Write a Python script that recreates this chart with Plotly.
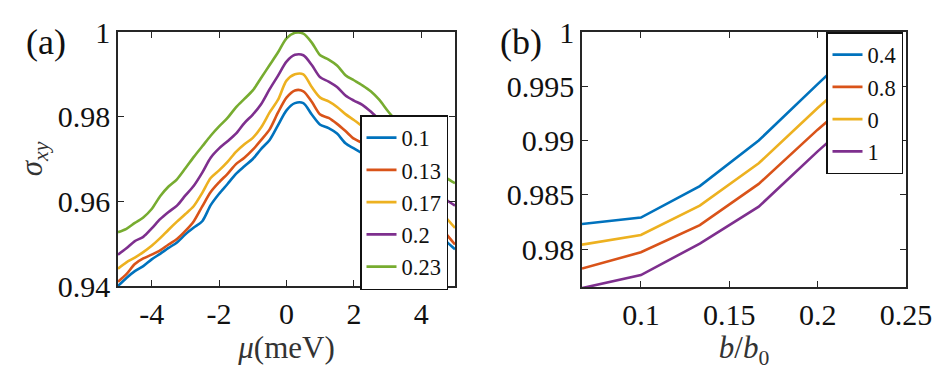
import plotly.graph_objects as go

# ---------------- Panel (a) data ----------------
mu = [-5.0, -4.75, -4.5, -4.25, -4.0, -3.75, -3.5, -3.25, -3.0, -2.75, -2.5, -2.25, -2.0, -1.75,
      -1.5, -1.25, -1.0, -0.75, -0.5, -0.25, 0.0, 0.25, 0.5, 0.75, 1.0, 1.25, 1.5, 1.75, 2.0, 2.25,
      2.5, 2.75, 3.0, 3.25, 3.5, 3.75, 4.0, 4.25, 4.5, 4.75, 5.0]

sigma_010 = [.9400, .9419, .9435, .9447, .9463, .9476, .9490, .9503, .9522, .9538, .9553, .9591, .9618, .9641,
             .9665, .9683, .9700, .9724, .9745, .9780, .9815, .9832, .9832, .9805, .9781, .9773, .9760, .9737, .9725, .9713,
             .9700, .9683, .9665, .9645, .9625, .9603, .9580, .9555, .9530, .9505, .9487]
sigma_013 = [.9410, .9428, .9452, .9465, .9474, .9484, .9498, .9511, .9530, .9553, .9588, .9622, .9645, .9665,
             .9688, .9703, .9722, .9745, .9770, .9810, .9845, .9862, .9860, .9835, .9805, .9797, .9783, .9766, .9748, .9738,
             .9725, .9705, .9687, .9667, .9645, .9622, .9598, .9573, .9548, .9522, .9498]
sigma_017 = [.9441, .9456, .9467, .9480, .9495, .9513, .9533, .9552, .9570, .9589, .9620, .9655, .9673, .9693,
             .9717, .9735, .9750, .9775, .9810, .9840, .9885, .9900, .9900, .9870, .9845, .9836, .9823, .9806, .9792, .9777,
             .9762, .9745, .9727, .9705, .9682, .9658, .9633, .9610, .9585, .9560, .9537]
sigma_020 = [.9474, .9489, .9506, .9516, .9536, .9558, .9575, .9590, .9614, .9637, .9668, .9703, .9725, .9742,
             .9760, .9785, .9805, .9830, .9865, .9897, .9930, .9946, .9945, .9922, .9893, .9883, .9870, .9850, .9838, .9828,
             .9812, .9792, .9770, .9745, .9720, .9695, .9670, .9645, .9622, .9603, .9590]
sigma_023 = [.9527, .9535, .9549, .9562, .9582, .9612, .9635, .9652, .9678, .9705, .9730, .9755, .9777, .9797,
             .9822, .9842, .9862, .9892, .9922, .9952, .9985, .9998, .9996, .9975, .9945, .9935, .9921, .9898, .9886, .9874,
             .9860, .9840, .9814, .9790, .9765, .9740, .9715, .9692, .9670, .9655, .9643]

names_a = ["0.1", "0.13", "0.17", "0.2", "0.23"]
series_a = [sigma_010, sigma_013, sigma_017, sigma_020, sigma_023]

# ---------------- Panel (b) data ----------------
b_ratio = [2/30, 3/30, 4/30, 5/30, 6/30, 7/30]
sig_b_04 = [0.9823, 0.9829, 0.9858, 0.9900, 0.9952, 1.0003]
sig_b_08 = [0.9782, 0.9797, 0.9822, 0.9860, 0.9910, 0.9957]
sig_b_00 = [0.9804, 0.9813, 0.9840, 0.9879, 0.9930, 0.9978]
sig_b_10 = [0.9764, 0.9776, 0.9805, 0.9839, 0.9890, 0.9938]

names_b = ["0.4", "0.8", "0", "1"]
series_b = [sig_b_04, sig_b_08, sig_b_00, sig_b_10]

# tick labels
xticks_a = [-4, -2, 0, 2, 4]
xtext_a = ["-4", "-2", "0", "2", "4"]
yticks_a = [0.94, 0.96, 0.98, 1.0]
ytext_a = ["0.94", "0.96", "0.98", "1"]
xticks_b = [0.1, 0.15, 0.2, 0.25]
xtext_b = ["0.1", "0.15", "0.2", "0.25"]
yticks_b = [0.98, 0.985, 0.99, 0.995, 1.0]
ytext_b = ["0.98", "0.985", "0.99", "0.995", "1"]

colors_a = ["#0072BD", "#D95319", "#EDB120", "#7E2F8E", "#77AC30"]
colors_b = ["#0072BD", "#D95319", "#EDB120", "#7E2F8E"]

FONT = "Times New Roman"
FONT_T = "Liberation Serif"
AX = "#262626"

fig = go.Figure()
for name, ys, c in zip(names_a, series_a, colors_a):
    fig.add_trace(go.Scatter(x=mu, y=ys, name=name, mode="lines",
                             line=dict(color=c, width=2.6, shape="spline", smoothing=0.8),
                             xaxis="x", yaxis="y", legend="legend"))
for name, ys, c in zip(names_b, series_b, colors_b):
    fig.add_trace(go.Scatter(x=b_ratio, y=ys, name=name, mode="lines",
                             line=dict(color=c, width=2.6),
                             xaxis="x2", yaxis="y2", legend="legend2"))

# the page body has an 8 px default margin, so the figure is placed at (8, 8)
OFF = 8
W, H = 952 - OFF, 370 - OFF
def px_x(p):
    return (p - OFF) / W
def px_y(p):
    return 1 - (p - OFF) / H

def axstyle():
    return dict(showline=True, linecolor=AX, linewidth=1.6, mirror="ticks", ticks="inside",
                ticklen=6, tickwidth=1.4, tickcolor=AX, showgrid=False, zeroline=False,
                automargin=False,
                tickfont=dict(family=FONT, size=30, color="#111111"))

fig.update_layout(
    template="none",
    width=W, height=H, margin=dict(l=0, r=0, t=0, b=0, autoexpand=False),
    paper_bgcolor="white", plot_bgcolor="white",
    font=dict(family=FONT, color="#111111"),
    xaxis=dict(domain=[px_x(118), px_x(455)], range=[-5, 5], tickmode="array",
               tickvals=xticks_a, ticktext=xtext_a, anchor="y",
               title=dict(text="<i>μ</i>(meV)", font=dict(family=FONT_T, size=31, color="#333333"), standoff=4),
               **axstyle()),
    yaxis=dict(domain=[px_y(286), px_y(32)], range=[0.94, 1.0], tickmode="array",
               tickvals=yticks_a, ticktext=ytext_a, anchor="x",
               title=dict(text="<i>σ</i><sub><i>xy</i></sub>", font=dict(family=FONT_T, size=31, color="#333333"), standoff=6),
               **axstyle()),
    xaxis2=dict(domain=[px_x(582), px_x(906)], range=[1/15, 0.25], tickmode="array",
                tickvals=xticks_b, ticktext=xtext_b, anchor="y2",
                title=dict(text="<i>b</i>/<i>b</i><sub>0</sub>", font=dict(family=FONT_T, size=31, color="#333333"), standoff=4),
                **axstyle()),
    yaxis2=dict(domain=[px_y(287), px_y(32)], range=[0.9765, 1.0], tickmode="array",
                tickvals=yticks_b, ticktext=ytext_b, anchor="x2", **axstyle()),
    legend=dict(x=px_x(448), y=px_y(115), xanchor="right", yanchor="top",
                bgcolor="white", bordercolor="#111111", borderwidth=1.5,
                font=dict(family=FONT, size=22.5, color="#111111"), itemwidth=30,
                tracegroupgap=0),
    legend2=dict(x=px_x(903), y=px_y(32), xanchor="right", yanchor="top",
                 bgcolor="white", bordercolor="#111111", borderwidth=1.5,
                 font=dict(family=FONT, size=22.5, color="#111111"), itemwidth=30,
                 tracegroupgap=0),
    showlegend=True,
)

fig.add_annotation(text="(a)", x=px_x(24), y=px_y(42), xref="paper", yref="paper",
                   xanchor="left", yanchor="middle", showarrow=False,
                   font=dict(family=FONT, size=36, color="#111111"))
fig.add_annotation(text="(b)", x=px_x(498), y=px_y(42), xref="paper", yref="paper",
                   xanchor="left", yanchor="middle", showarrow=False,
                   font=dict(family=FONT, size=36, color="#111111"))

fig.write_html("out.html")
